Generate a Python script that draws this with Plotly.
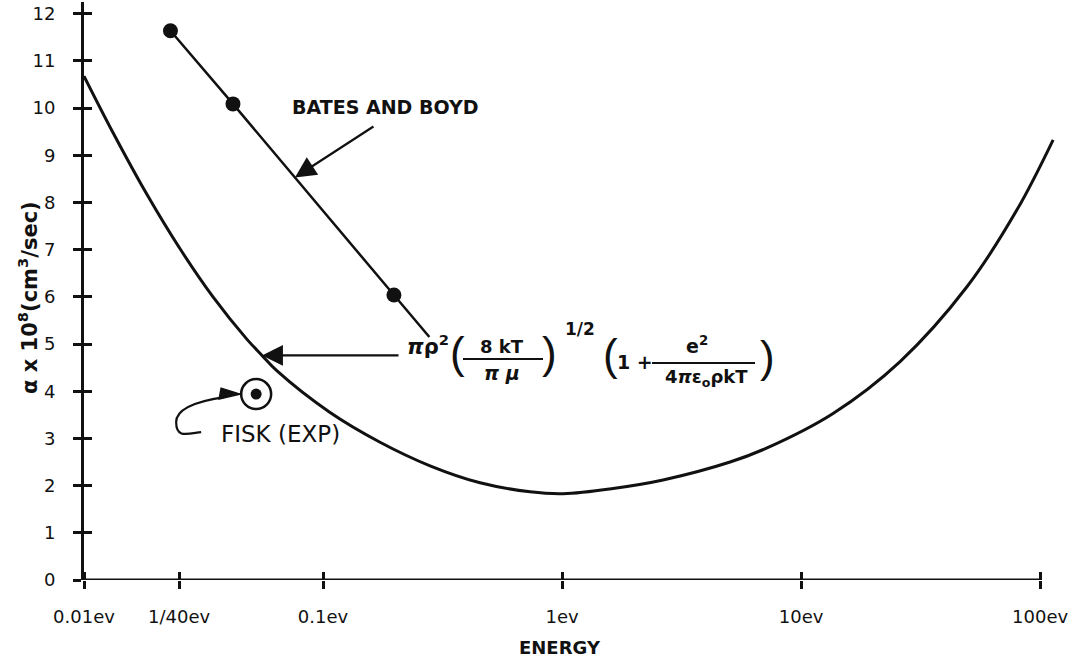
import numpy as np
import plotly.graph_objects as go

# Theoretical recombination coefficient vs. energy (alpha x 1e8, cm^3/sec)
theory_energy_ev = [0.01, 0.01323, 0.01835, 0.02522, 0.03465, 0.04808, 0.05556, 0.06421,
                    0.1070, 0.1732, 0.2804, 0.454, 0.7348, 1.01, 1.635, 2.647, 5.047,
                    7.205, 13.61, 25.96, 49.52, 80.12, 113.4]
theory_alpha = [10.68, 9.48, 8.17, 7.02, 6.00, 5.10, 4.76, 4.43,
                3.55, 2.92, 2.42, 2.06, 1.87, 1.83, 1.94, 2.12, 2.50,
                2.80, 3.53, 4.63, 6.22, 7.85, 9.33]

# Bates and Boyd values
bates_energy_ev = [0.023, 0.042, 0.198]
bates_alpha = [11.64, 10.09, 6.04]

# Fisk experimental point
fisk_energy_ev = [0.0525]
fisk_alpha = [3.94]

# Axis ticks
y_tickvals = list(range(0, 13))
x_tickvals = [0.01, 0.025, 0.1, 1, 10, 100]
x_ticktext = ["0.01ev", "1/40ev", "0.1ev", "1ev", "10ev", "100ev"]

# ---- layout geometry ----
FIG_W, FIG_H = 1075, 662
M_L, M_R, M_T, M_B = 84, 11, 2, 82
X_RANGE = [-2, 2.1]
Y_RANGE = [0, 12.25]
PW = FIG_W - M_L - M_R
PH = FIG_H - M_T - M_B

FONT = "DejaVu Sans"
INK = "#111111"


def to_px(e, a):
    px = M_L + (np.log10(e) - X_RANGE[0]) / (X_RANGE[1] - X_RANGE[0]) * PW
    py = M_T + PH - (a - Y_RANGE[0]) / (Y_RANGE[1] - Y_RANGE[0]) * PH
    return px, py


def paper(px, py):
    return (px - M_L) / PW, (M_T + PH - py) / PH


fig = go.Figure()

# theory curve
fig.add_trace(go.Scatter(
    x=theory_energy_ev, y=theory_alpha, mode="lines",
    line=dict(color=INK, width=3, shape="spline", smoothing=1.0),
    hoverinfo="skip", showlegend=False))

# Bates and Boyd: line through the points, continued a little past the last one
b_le = np.log10(bates_energy_ev)
ext_le = b_le[-1] + 0.22 * (b_le[-1] - b_le[-2])
ext_a = bates_alpha[-1] + 0.22 * (bates_alpha[-1] - bates_alpha[-2])
fig.add_trace(go.Scatter(
    x=bates_energy_ev + [10 ** ext_le], y=bates_alpha + [ext_a], mode="lines",
    line=dict(color=INK, width=2.5), hoverinfo="skip", showlegend=False))
fig.add_trace(go.Scatter(
    x=bates_energy_ev, y=bates_alpha, mode="markers",
    marker=dict(color=INK, size=15, line=dict(width=0)),
    hoverinfo="skip", showlegend=False))

# Fisk point: dot inside a ring
fig.add_trace(go.Scatter(
    x=fisk_energy_ev, y=fisk_alpha, mode="markers",
    marker=dict(symbol="circle-open", color=INK, size=30, line=dict(width=2.5, color=INK)),
    hoverinfo="skip", showlegend=False))
fig.add_trace(go.Scatter(
    x=fisk_energy_ev, y=fisk_alpha, mode="markers",
    marker=dict(color=INK, size=11), hoverinfo="skip", showlegend=False))

shapes = []
annotations = []

# x axis line ends at the 100 ev tick
shapes.append(dict(type="line", xref="x", yref="y", x0=0.01, x1=100, y0=0, y1=0,
                   line=dict(color=INK, width=3)))


def text(px, py, s, size=18, bold=False, family=FONT, xanchor="center", angle=0):
    x, y = paper(px, py)
    annotations.append(dict(
        xref="paper", yref="paper", x=x, y=y, text=f"<b>{s}</b>" if bold else s,
        showarrow=False, xanchor=xanchor, yanchor="middle", textangle=angle,
        font=dict(family=family, size=size, color=INK)))


# axis titles
text(560, 647, "ENERGY", size=18, bold=True)
text(28, 298, "α x 10<sup>8</sup>(cm<sup>3</sup>/sec)", size=21, bold=True, angle=-90)

# Bates and Boyd label with arrow pointing at the line
t = 0.385
tip_le = b_le[1] + t * (b_le[2] - b_le[1])
tip_a = bates_alpha[1] + t * (bates_alpha[2] - bates_alpha[1])
annotations.append(dict(
    x=tip_le, y=tip_a, xref="x", yref="y", text="", showarrow=True,
    ax=80, ay=-52, arrowhead=2, arrowsize=1.9, arrowwidth=2.2,
    arrowcolor=INK, standoff=0))
text(385, 107, "BATES AND BOYD", size=19, bold=True)

# formula label with arrow to the theory curve
annotations.append(dict(
    x=np.log10(theory_energy_ev[6]), y=theory_alpha[6], xref="x", yref="y",
    text="", showarrow=True, ax=138, ay=0, arrowhead=2, arrowsize=1.9,
    arrowwidth=2.2, arrowcolor=INK, standoff=0))

PAREN = "Liberation Sans"
text(428, 345, "<i>π</i>ρ<sup>2</sup>", size=21, bold=True)
text(457, 352, "(", size=44, family=PAREN)
text(502, 346, "8 kT", size=18, bold=True)
text(502, 373, "<i>π μ</i>", size=19, bold=True)
text(549, 352, ")", size=44, family=PAREN)
text(580, 329, "1/2", size=17, bold=True)
text(610, 354, "(", size=44, family=PAREN)
text(635, 362, "1 +", size=19, bold=True)
text(697, 345, "e<sup>2</sup>", size=19, bold=True)
text(706, 378, "4<i>π</i>ε<sub>o</sub>ρkT", size=18, bold=True)
text(767, 356, ")", size=44, family=PAREN)

for (x0, x1, y) in [(463, 543, 359), (652, 755, 363)]:
    a0 = paper(x0, y)
    a1 = paper(x1, y)
    shapes.append(dict(type="line", xref="paper", yref="paper",
                       x0=a0[0], x1=a1[0], y0=a0[1], y1=a1[1],
                       line=dict(color=INK, width=2)))

# Fisk label with curved arrow into the ring
cx, cy = to_px(fisk_energy_ev[0], fisk_alpha[0])
text(cx + 24, cy + 40, "FISK (EXP)", size=23)


def path_from(points, cmds):
    parts = []
    for c, pts in zip(cmds, points):
        coords = " ".join(f"{paper(px, py)[0]:.5f},{paper(px, py)[1]:.5f}" for px, py in pts)
        parts.append(f"{c} {coords}")
    return " ".join(parts)


curve_path = path_from(
    [[(cx - 32, cy + 3)],
     [(cx - 52, cy + 6), (cx - 80, cy + 12), (cx - 80, cy + 28)],
     [(cx - 70, cy + 40), (cx - 55, cy + 38)]],
    ["M", "C", "S"])
shapes.append(dict(type="path", xref="paper", yref="paper", path=curve_path,
                   line=dict(color=INK, width=2.2)))
head_path = path_from(
    [[(cx - 16, cy)], [(cx - 35, cy - 6)], [(cx - 37, cy + 5)]],
    ["M", "L", "L"]) + " Z"
shapes.append(dict(type="path", xref="paper", yref="paper", path=head_path,
                   fillcolor=INK, line=dict(color=INK, width=1.5)))

fig.update_layout(
    width=FIG_W, height=FIG_H,
    margin=dict(l=M_L, r=M_R, t=M_T, b=M_B),
    paper_bgcolor="white", plot_bgcolor="white",
    showlegend=False,
    shapes=shapes, annotations=annotations,
    xaxis=dict(
        type="log", range=X_RANGE, showgrid=False, zeroline=False, showline=False,
        tickvals=x_tickvals, ticktext=x_ticktext,
        ticks="outside", ticklen=8, tickwidth=2.5, tickcolor=INK,
        minor=dict(tickvals=x_tickvals, ticks="inside", ticklen=8,
                   tickwidth=2.5, tickcolor=INK, showgrid=False),
        tickfont=dict(family=FONT, size=18, color=INK),
        ticklabelstandoff=12,
    ),
    yaxis=dict(
        range=Y_RANGE, showgrid=False, zeroline=False,
        showline=True, linewidth=3, linecolor=INK,
        tickvals=y_tickvals,
        ticks="outside", ticklen=8, tickwidth=2.5, tickcolor=INK,
        minor=dict(tickvals=y_tickvals[1:], ticks="inside", ticklen=8,
                   tickwidth=2.5, tickcolor=INK, showgrid=False),
        tickfont=dict(family=FONT, size=18, color=INK),
        ticklabelstandoff=14,
    ),
)

fig.write_html("out.html")
